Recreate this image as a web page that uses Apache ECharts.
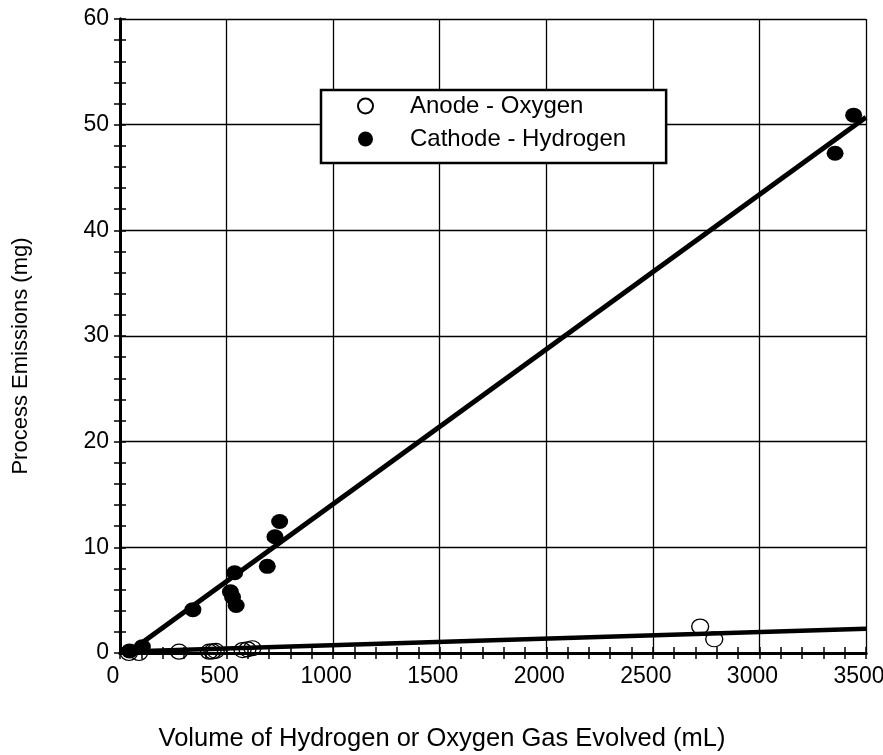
<!DOCTYPE html>
<html>
<head>
<meta charset="utf-8">
<script src="https://cdn.jsdelivr.net/npm/echarts@6/dist/echarts.min.js"></script>
<style>html,body{margin:0;padding:0;background:#fff}#c{width:883px;height:755px}</style>
</head>
<body>
<div id="c"></div>
<script>
// ---- data ----
const anodeX = [42, 89, 277, 418, 434, 449, 575, 598, 621, 2722, 2788];
const anodeY = [0.0, 0.0, 0.12, 0.12, 0.15, 0.2, 0.28, 0.35, 0.45, 2.5, 1.3];
const cathodeX = [45, 105, 342, 518, 528, 538, 545, 691, 727, 749, 3355, 3442];
const cathodeY = [0.2, 0.6, 4.1, 5.8, 5.3, 7.6, 4.5, 8.2, 11.0, 12.45, 47.3, 50.9];
const cathodeFitX = [37, 3500];
const cathodeFitY = [0, 50.7];
const anodeFitX = [40, 3500];
const anodeFitY = [0.15, 2.3];
const xTicks = [0, 500, 1000, 1500, 2000, 2500, 3000, 3500];
const yTicks = [0, 10, 20, 30, 40, 50, 60];
const seriesNames = ['Anode - Oxygen', 'Cathode - Hydrogen'];
const xTitle = 'Volume of Hydrogen or Oxygen Gas Evolved (mL)';
const yTitle = 'Process Emissions (mg)';

const zip = (a, b) => a.map((v, i) => [v, b[i]]);
const FONT = "'Liberation Sans', Arial, sans-serif";

const baseAxis = {
  axisLine: { show: true, lineStyle: { color: '#000', width: 3 } },
  axisTick: { show: true, inside: true, length: 6, lineStyle: { color: '#000', width: 1.5 } },
  minorTick: { show: true, splitNumber: 5, length: 6, lineStyle: { color: '#000', width: 1.5 } },
  splitLine: { show: false }
};

const chart = echarts.init(document.getElementById('c'), null, { renderer: 'canvas' });
chart.setOption({
  animation: false,
  backgroundColor: '#fff',
  textStyle: { fontFamily: FONT, color: '#000' },
  grid: { left: 120, right: 17, top: 19, bottom: 102, containLabel: false, outerBoundsMode: 'none' },
  legend: {
    data: seriesNames,
    orient: 'vertical',
    left: 321, top: 90,
    padding: [4, 40, 12, 36],
    itemGap: 9,
    itemWidth: 15, itemHeight: 15,
    borderColor: '#000', borderWidth: 2.5,
    backgroundColor: '#fff',
    textStyle: { fontFamily: FONT, fontSize: 24, color: '#000', padding: [0, 0, 0, 32] }
  },
  xAxis: [
    Object.assign({}, baseAxis, {
      type: 'value', min: xTicks[0], max: xTicks[xTicks.length - 1], interval: 500,
      position: 'bottom',
      axisLabel: { fontFamily: FONT, fontSize: 23, color: '#000', margin: 12, padding: [0, 14, 0, 0], formatter: v => String(v) },
      splitLine: { show: true, lineStyle: { color: '#000', width: 1.3 } },
      name: xTitle, nameLocation: 'middle', nameGap: 73,
      nameTextStyle: { fontFamily: FONT, fontSize: 25.5, color: '#000', padding: [0, 102, 0, 0] }
    }),
    Object.assign({}, baseAxis, {
      type: 'value', min: xTicks[0], max: xTicks[xTicks.length - 1], interval: 500,
      position: 'top', axisLabel: { show: false }
    })
  ],
  yAxis: [
    Object.assign({}, baseAxis, {
      type: 'value', min: yTicks[0], max: yTicks[yTicks.length - 1], interval: 10,
      position: 'left',
      axisLabel: { fontFamily: FONT, fontSize: 23, color: '#000', margin: 11, formatter: v => String(v) },
      splitLine: { show: true, lineStyle: { color: '#000', width: 1.3 } },
      name: yTitle, nameLocation: 'middle', nameGap: 88,
      nameTextStyle: { fontFamily: FONT, fontSize: 22, color: '#000', padding: [0, 40, 0, 0] }
    }),
    Object.assign({}, baseAxis, {
      type: 'value', min: yTicks[0], max: yTicks[yTicks.length - 1], interval: 10,
      position: 'right', axisLabel: { show: false }
    })
  ],
  series: [
    {
      name: 'cathodeFit', type: 'line', data: zip(cathodeFitX, cathodeFitY),
      showSymbol: false, symbol: 'none', lineStyle: { color: '#000', width: 5 }, z: 3
    },
    {
      name: 'anodeFit', type: 'line', data: zip(anodeFitX, anodeFitY),
      showSymbol: false, symbol: 'none', lineStyle: { color: '#000', width: 4.5 }, z: 3
    },
    {
      name: seriesNames[0], type: 'scatter', data: zip(anodeX, anodeY),
      symbol: 'circle', symbolSize: [17, 15],
      itemStyle: { color: 'rgba(255,255,255,0)', borderColor: '#000', borderWidth: 1.3, opacity: 1 },
      z: 4
    },
    {
      name: seriesNames[1], type: 'scatter', data: zip(cathodeX, cathodeY),
      symbol: 'circle', symbolSize: [17, 15],
      itemStyle: { color: '#000', opacity: 1 },
      z: 4
    }
  ]
});
</script>
</body>
</html>
